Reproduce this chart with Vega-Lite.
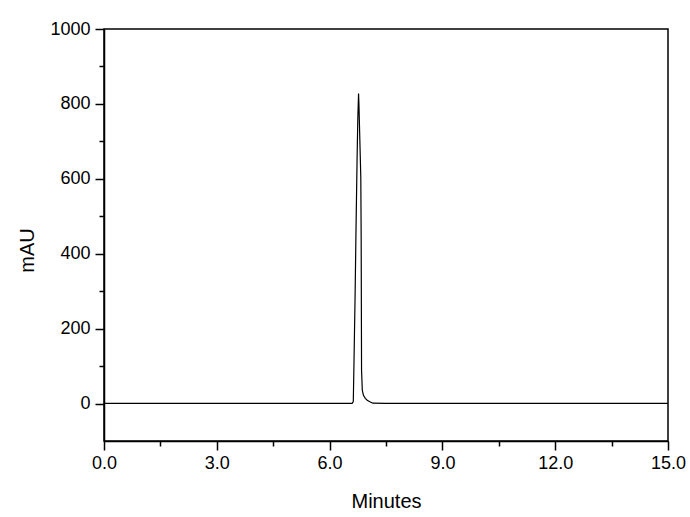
{
  "$schema": "https://vega.github.io/schema/vega-lite/v6.json",
  "autosize": "none",
  "width": 564,
  "height": 412,
  "padding": {"left": 104, "top": 29, "right": 22, "bottom": 76},
  "background": "white",
  "config": {
    "view": {"stroke": "black", "strokeWidth": 1.5},
    "font": "Liberation Sans",
    "axis": {"grid": false, "domainColor": "black", "domainWidth": 1.5, "tickColor": "black", "tickWidth": 1.5, "labelColor": "black", "titleColor": "black", "labelFont": "Liberation Sans", "titleFont": "Liberation Sans", "labelFontSize": 18, "titleFontSize": 20, "titleFontWeight": "normal"}
  },
  "data": {"values": [
    {"t": 0.0, "v": 0.5}, {"t": 0.5, "v": 0.4}, {"t": 1.0, "v": 0.3}, {"t": 2.0, "v": 0.3},
    {"t": 3.0, "v": 0.2}, {"t": 4.0, "v": 0.2}, {"t": 5.0, "v": 0.2}, {"t": 6.0, "v": 0.3},
    {"t": 6.5, "v": 0.4}, {"t": 6.6, "v": 0.6}, {"t": 6.63, "v": 5}, {"t": 6.65, "v": 117},
    {"t": 6.68, "v": 300}, {"t": 6.7, "v": 448}, {"t": 6.73, "v": 646}, {"t": 6.75, "v": 760},
    {"t": 6.77, "v": 828}, {"t": 6.78, "v": 800}, {"t": 6.8, "v": 720}, {"t": 6.83, "v": 603},
    {"t": 6.84, "v": 432}, {"t": 6.85, "v": 88}, {"t": 6.87, "v": 35}, {"t": 6.9, "v": 22},
    {"t": 6.95, "v": 14}, {"t": 7.0, "v": 9}, {"t": 7.07, "v": 5}, {"t": 7.15, "v": 1},
    {"t": 7.5, "v": 0.5}, {"t": 8.0, "v": 0.4}, {"t": 9.0, "v": 0.3}, {"t": 10.0, "v": 0.3},
    {"t": 11.0, "v": 0.2}, {"t": 12.0, "v": 0.2}, {"t": 13.0, "v": 0.2}, {"t": 14.0, "v": 0.2},
    {"t": 15.0, "v": 0.2}
  ]},
  "layer": [
    {
      "mark": {"type": "line", "color": "black", "strokeWidth": 1.2, "clip": true},
      "encoding": {
        "x": {"field": "t", "type": "quantitative", "scale": {"domain": [0, 15], "nice": false, "zero": false},
              "axis": {"orient": "bottom", "values": [0, 3, 6, 9, 12, 15], "format": ".1f", "tickSize": 9, "labelPadding": 4, "title": "Minutes", "titlePadding": 19, "labelFlush": false}},
        "y": {"field": "v", "type": "quantitative", "scale": {"domain": [-100, 1000], "nice": false, "zero": false},
              "axis": {"orient": "left", "values": [0, 200, 400, 600, 800, 1000], "format": "d", "tickSize": 9, "labelPadding": 5, "title": "mAU", "titleFontSize": 20, "titlePadding": 12, "titleY": 221}}
      }
    },
    {
      "mark": {"type": "line", "strokeOpacity": 0},
      "encoding": {
        "x": {"field": "t", "type": "quantitative", "scale": {"domain": [0, 15], "nice": false, "zero": false},
              "axis": {"orient": "bottom", "values": [1.5, 4.5, 7.5, 10.5, 13.5], "tickSize": 5, "labels": false, "domain": false, "title": null}},
        "y": {"field": "v", "type": "quantitative", "scale": {"domain": [-100, 1000], "nice": false, "zero": false},
              "axis": {"orient": "left", "values": [100, 300, 500, 700, 900], "tickSize": 5, "labels": false, "domain": false, "title": null}}
      }
    }
  ],
  "resolve": {"axis": {"x": "independent", "y": "independent"}}
}
